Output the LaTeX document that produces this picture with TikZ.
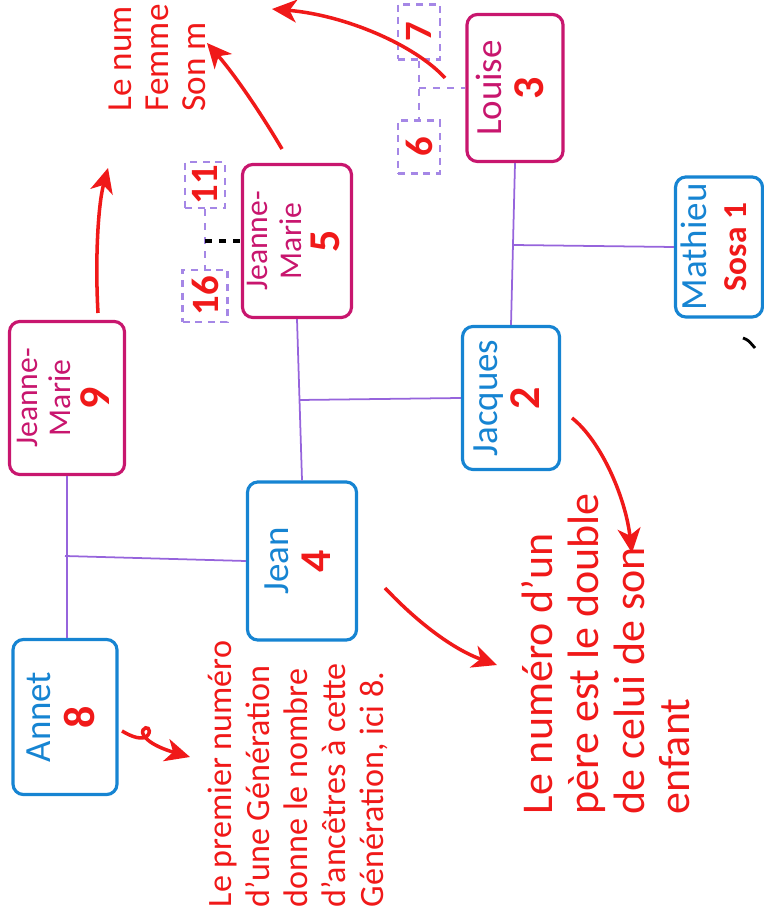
\documentclass[tikz,border=0pt]{standalone}
\usepackage{fontspec}
\setmainfont{Carlito}
\usepackage{graphicx}
\usetikzlibrary{arrows.meta}
\definecolor{boxblue}{RGB}{22,132,210}
\definecolor{boxpink}{RGB}{200,22,110}
\definecolor{linkviolet}{RGB}{150,100,220}
\definecolor{dashviolet}{RGB}{165,135,230}
\definecolor{notered}{RGB}{240,25,25}
\renewcommand{\arraystretch}{0.95}
% name (colour #1) over the Sosa number, read from bottom to top
\newcommand{\who}[3]{\rotatebox{90}{\begin{tabular}{@{}c@{}}\textcolor{#1}{\begin{tabular}{@{}c@{}}#2\end{tabular}}\\\textcolor{notered}{\fontsize{12.5}{13}\selectfont\bfseries #3}\end{tabular}}}
\begin{document}
\begin{tikzpicture}[x=0.01cm, y=-0.01cm,
  person/.style={draw, line width=0.9pt, rounded corners=3pt, inner sep=0pt, font=\fontsize{10.5}{11.5}\selectfont},
  bluebox/.style={person, draw=boxblue},
  pinkbox/.style={person, draw=boxpink},
  sosabox/.style={draw=dashviolet, line width=0.6pt, dash pattern=on 2pt off 1.6pt, inner sep=0pt, text=notered, font=\fontsize{11}{11}\selectfont\bfseries},
  link/.style={draw=linkviolet, line width=0.5pt},
  dashlink/.style={draw=dashviolet, line width=0.6pt, dash pattern=on 2pt off 2pt},
  note/.style={rotate=90, align=left, inner sep=0pt, text=notered, anchor=north west},
  remark/.style={draw=notered, line width=1pt, -{Stealth[length=7pt,width=6.5pt,inset=2pt]}}]
\useasboundingbox (0,0) rectangle (763,916);

% generations, read from the right
\node[bluebox, minimum width=0.87cm, minimum height=1.40cm] (mathieu) at (719,247) {\who{boxblue}{Mathieu}{\fontsize{9.5}{10}\selectfont Sosa 1}};
\node[bluebox, minimum width=0.97cm, minimum height=1.43cm] (jacques) at (511,398) {\who{boxblue}{Jacques}{2}};
\node[pinkbox, minimum width=0.96cm, minimum height=1.47cm] (louise) at (515,88) {\who{boxpink}{Louise}{3}};
\node[bluebox, minimum width=1.09cm, minimum height=1.58cm] (jean) at (302,561) {\who{boxblue}{Jean}{4}};
\node[pinkbox, minimum width=1.09cm, minimum height=1.53cm, font=\fontsize{9}{10}\selectfont] (jm5) at (297,241) {\who{boxpink}{Jeanne-\\Marie}{5}};
\node[bluebox, minimum width=1.04cm, minimum height=1.55cm] (annet) at (65,717) {\who{boxblue}{Annet}{8}};
\node[pinkbox, minimum width=1.15cm, minimum height=1.53cm, font=\fontsize{9}{10}\selectfont] (jm9) at (67,398) {\who{boxpink}{Jeanne-\\Marie}{9}};

% unknown parents
\foreach \n/\x/\y/\w/\h in {7/419/32/42/55, 6/419/147/42/53, 11/205/185/40/46, 16/205/296/45/52}
  \node[sosabox, minimum width=\w*0.01cm, minimum height=\h*0.01cm] (s\n) at (\x,\y) {\rotatebox{90}{\n}};

% links
\coordinate (j1) at (65,556);
\coordinate (j2) at (299,400);
\coordinate (j3) at (513,245);
\draw[link] (jm9.south) -- (jm9.south |- annet.north);
\draw[link] (j1) -- (jean.west);
\draw[link] (jm5.south) -- (jean.north);
\draw[link] (j2) -- (jacques.west);
\draw[link] (louise.south) -- (jacques.north);
\draw[link] (j3) -- (mathieu.west);

\coordinate (d1) at (s7.south |- louise.west);
\coordinate (d2) at (s11.south |- jm5.west);
\draw[dashlink] (s7.south) -- (s6.north);
\draw[dashlink] (d1) -- (louise.west);
\draw[dashlink] (s11.south) -- (s16.north);
\draw[line width=0.9pt, dash pattern=on 2pt off 2pt] (d2) -- (jm5.west);

% notes
\node[note, font=\fontsize{9.7}{10.8}\selectfont] (first) at (207,908) {Le premier numéro\\d'une Génération\\donne le nombre\\d'ancêtres à cette\\Génération, ici 8.};
\node[note, font=\fontsize{12.5}{13}\selectfont] (father) at (521,815) {Le numéro d'un\\père est le double\\de celui de son\\enfant};
\node[note, font=\fontsize{10}{10.5}\selectfont] (mother) at (108,112) {Le num\\Femme\\Son m};

% arrows to the notes
\coordinate (a1) at (122,731);
\coordinate (b1) at (190,757);
\coordinate (a2) at (385,588);
\coordinate (b2) at (497,665);
\coordinate (a3) at (572,418);
\coordinate (b3) at (632,553);
\coordinate (a4) at (98,313);
\coordinate (b4) at (108,168);
\coordinate (a5) at (282,149);
\coordinate (b5) at (207,43);
\coordinate (a6) at (445,78);
\coordinate (b6) at (272,9);
\draw[remark] (a1) .. controls (132,737) and (143,741) .. (148,735) .. controls (152,729) and (146,725) .. (143,730) .. controls (140,736) and (152,746) .. (b1);
\draw[remark] (a2) .. controls (420,625) and (455,650) .. (b2);
\draw[remark] (a3) .. controls (600,440) and (625,495) .. (b3);
\draw[remark] (a4) .. controls (95,260) and (98,205) .. (b4);
\draw[remark] (a5) .. controls (262,115) and (235,75) .. (b5);
\draw[remark] (a6) .. controls (415,45) and (345,15) .. (b6);

% stray mark
\draw[line width=0.8pt] (743,338) .. controls (748,340) .. (755,348);
\end{tikzpicture}
\end{document}
